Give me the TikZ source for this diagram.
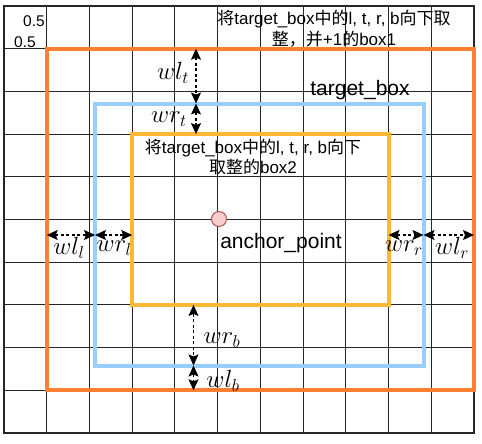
\documentclass[tikz,border=0pt]{standalone}
\usepackage{fontspec}
\setmainfont{Liberation Sans}
\newfontfamily\cjk{Noto Sans CJK SC}
\usetikzlibrary{arrows.meta}
\definecolor{boxorange}{HTML}{FF8033}
\definecolor{boxblue}{HTML}{99CCFF}
\definecolor{boxyellow}{HTML}{FFB833}
\definecolor{ptfill}{HTML}{F8CECC}
\definecolor{ptdraw}{HTML}{B85450}
\begin{document}
\begin{tikzpicture}[x=1pt,y=-1pt,
  gridline/.style={draw=black!85, line width=1.1pt},
  boxline/.style={line width=4pt},
  dimarrow/.style={dash pattern=on 3pt off 2.5pt, line width=1.1pt,
    {Stealth[length=11pt,width=10pt,inset=2pt]}-{Stealth[length=11pt,width=10pt,inset=2pt]}},
  lbl/.style={font=\fontsize{17}{21}\selectfont, inner sep=0pt, align=center},
  biglbl/.style={font=\fontsize{21}{25}\selectfont, inner sep=0pt},
  smalllbl/.style={font=\fontsize{15.5}{18}\selectfont, inner sep=0pt},
  mathlbl/.style={font=\fontsize{25}{29}\selectfont, inner sep=0pt},
]
\useasboundingbox (0,0) rectangle (482,444);
\fill[white] (0,0) rectangle (482,444);
% grid
\foreach \i in {0,...,11} \draw[gridline] ({4+\i*42.727},6) -- ({4+\i*42.727},433);
\foreach \j in {0,...,10} \draw[gridline] (4,{6+\j*42.7}) -- (474,{6+\j*42.7});
\draw[gridline, line cap=rect] (4,6) rectangle (474,433);
% box corners
\coordinate (o1) at (46.7,48.7);  \coordinate (o2) at (474,390.3);
\coordinate (b1) at (95,103.5);   \coordinate (b2) at (423.5,365.5);
\coordinate (y1) at (132.2,134.1); \coordinate (y2) at (388.5,304.9);
\draw[boxline, boxorange] (o1) rectangle (o2);
\draw[boxline, boxblue] (b1) rectangle (b2);
\draw[boxline, boxyellow] (y1) rectangle (y2);
% anchor point
\node[circle, draw=ptdraw, fill=ptfill, line width=1pt, minimum size=15pt, inner sep=0pt] (ap) at (219,219) {};
% arrow end points
\coordinate (tO) at (o1 -| 196,0); \coordinate (tB) at (b1 -| 196,0); \coordinate (tY) at (y1 -| 196,0);
\coordinate (bY) at (y2 -| 193.5,0); \coordinate (bB) at (b2 -| 193.5,0); \coordinate (bO) at (o2 -| 193.5,0);
\coordinate (lO) at (o1 |- 0,235); \coordinate (lB) at (b1 |- 0,235); \coordinate (lY) at (y1 |- 0,235);
\coordinate (rY) at (y2 |- 0,235); \coordinate (rB) at (b2 |- 0,235); \coordinate (rO) at (o2 |- 0,235);
\draw[dimarrow] (tO) -- (tB);
\draw[dimarrow] (tB) -- (tY);
\draw[dimarrow] (bY) -- (bB);
\draw[dimarrow] (bB) -- (bO);
\draw[dimarrow] (lO) -- (lB);
\draw[dimarrow] (lB) -- (lY);
\draw[dimarrow] (rY) -- (rB);
\draw[dimarrow] (rB) -- (rO);
% math labels
\node[mathlbl] (wlt) at (173,72.5) {$wl_t$};
\node[mathlbl] (wrt) at (169,119) {$wr_t$};
\node[mathlbl] (wll) at (69,248) {$wl_l$};
\node[mathlbl] (wrl) at (114,248) {$wr_l$};
\node[mathlbl] (wrr) at (404,248) {$wr_r$};
\node[mathlbl] (wlr) at (452,248) {$wl_r$};
\node[mathlbl] (wrb) at (222,340) {$wr_b$};
\node[mathlbl] (wlb) at (223,381) {$wl_b$};
% texts
\node[smalllbl] (h1) at (34,21) {0.5};
\node[smalllbl] (h2) at (25,42) {0.5};
\node[lbl] (title) at (334,29) {{\cjk 将}target\_box{\cjk 中的}l, t, r, b{\cjk 向下取}\\{\cjk 整，并}+1{\cjk 的}box1};
\node[biglbl] (tb) at (360,90) {target\_box};
\node[lbl, font=\fontsize{17}{20}\selectfont] (box2) at (253,157) {{\cjk 将}target\_box{\cjk 中的}l, t, r, b{\cjk 向下}\\{\cjk 取整的}box2};
\node[biglbl] (apl) at (281,243) {anchor\_point};
\end{tikzpicture}
\end{document}
